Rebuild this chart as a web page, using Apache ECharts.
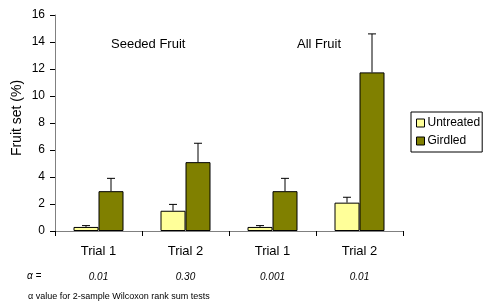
<!DOCTYPE html>
<html><head><meta charset="utf-8">
<script src="https://cdn.jsdelivr.net/npm/echarts@6/dist/echarts.min.js"></script>
<style>html,body{margin:0;padding:0;background:#fff}#c{width:488px;height:305px}</style>
</head><body><div id="c"></div>
<script>
var categories = ['Trial 1', 'Trial 2', 'Trial 1', 'Trial 2'];
var alphaValues = ['0.01', '0.30', '0.001', '0.01'];
var untreated = [0.3, 1.5, 0.3, 2.1];
var untreatedErrTop = [0.4, 1.97, 0.4, 2.5];
var girdled = [2.95, 5.1, 2.95, 11.75];
var girdledErrTop = [3.9, 6.5, 3.9, 14.6];
var yTicks = [0, 2, 4, 6, 8, 10, 12, 14, 16];
var groupTitles = ['Seeded Fruit', 'All Fruit'];

var chart = echarts.init(document.getElementById('c'), null, {renderer: 'canvas'});
var font = 'Liberation Sans, Arial, sans-serif';

function errSeries(vals, tops, offset) {
  return {
    type: 'custom',
    xAxisIndex: 0, yAxisIndex: 0,
    z: 1,
    data: vals.map(function (v, i) { return [i, v, tops[i]]; }),
    renderItem: function (params, api) {
      var p0 = api.coord([api.value(0), api.value(1)]);
      var p1 = api.coord([api.value(0), api.value(2)]);
      var x = p0[0] + offset;
      return {
        type: 'group',
        children: [
          {type: 'line', shape: {x1: x, y1: p0[1], x2: x, y2: p1[1]}, style: {stroke: '#000', lineWidth: 1}},
          {type: 'line', shape: {x1: x - 4, y1: p1[1], x2: x + 4, y2: p1[1]}, style: {stroke: '#000', lineWidth: 1}}
        ]
      };
    }
  };
}

chart.setOption({
  animation: false,
  textStyle: {fontFamily: font},
  grid: {left: 55, right: 85, top: 15, bottom: 74, containLabel: false},
  legend: {
    data: ['Untreated', 'Girdled'],
    orient: 'vertical',
    left: 411, top: 112,
    padding: [5, 2, 5, 5],
    itemGap: 6,
    itemWidth: 8, itemHeight: 8,
    icon: 'rect',
    borderColor: '#000', borderWidth: 1,
    textStyle: {fontFamily: font, fontSize: 12, color: '#000', padding: [0, 0, 0, -2]},
    itemStyle: {borderColor: '#000', borderWidth: 1}
  },
  xAxis: [{
    type: 'category',
    data: categories,
    axisLine: {lineStyle: {color: '#808080', width: 1}},
    axisTick: {show: true, length: 5, lineStyle: {color: '#000'}},
    axisLabel: {color: '#000', fontSize: 13, fontFamily: font, margin: 14},
    splitLine: {show: false}
  }, {
    type: 'category',
    data: alphaValues,
    position: 'bottom',
    offset: 28,
    axisLine: {show: false},
    axisTick: {show: false},
    axisLabel: {color: '#000', fontSize: 10, fontStyle: 'italic', fontFamily: font, margin: 13}
  }],
  yAxis: {
    type: 'value',
    min: 0, max: 16, interval: 2,
    axisLine: {show: true, lineStyle: {color: '#808080', width: 1}},
    axisTick: {show: true, length: 5, inside: false, lineStyle: {color: '#000'}},
    axisLabel: {color: '#000', fontSize: 12, fontFamily: font, margin: 10,
      formatter: function (v) { return yTicks.indexOf(v) >= 0 ? String(v) : ''; }},
    splitLine: {show: false}
  },
  series: [
    {name: 'Untreated', type: 'bar', data: untreated, barWidth: 25, barGap: '0%', z: 2,
      itemStyle: {color: '#FFFF99', borderColor: '#000', borderWidth: 1}},
    {name: 'Girdled', type: 'bar', data: girdled, barWidth: 25, barGap: '0%', z: 2,
      itemStyle: {color: '#808000', borderColor: '#000', borderWidth: 1}},
    errSeries(untreated, untreatedErrTop, -12.5),
    errSeries(girdled, girdledErrTop, 12.5)
  ],
  graphic: [
    {type: 'text', x: 17, y: 118, rotation: Math.PI / 2,
      style: {text: 'Fruit set (%)', fontSize: 14, fontFamily: font, fill: '#000', align: 'center', verticalAlign: 'middle'}},
    {type: 'text', left: 111, top: 38, style: {text: groupTitles[0], fontSize: 13, fontFamily: font, fill: '#000'}},
    {type: 'text', left: 297, top: 38, style: {text: groupTitles[1], fontSize: 13, fontFamily: font, fill: '#000'}},
    {type: 'text', left: 27, top: 271, style: {text: 'α =', fontSize: 10, fontStyle: 'italic', fontFamily: font, fill: '#000'}},
    {type: 'text', left: 28, top: 292, style: {text: 'α value for 2-sample Wilcoxon rank sum tests', fontSize: 9, fontFamily: font, fill: '#000'}}
  ]
});
</script></body></html>
